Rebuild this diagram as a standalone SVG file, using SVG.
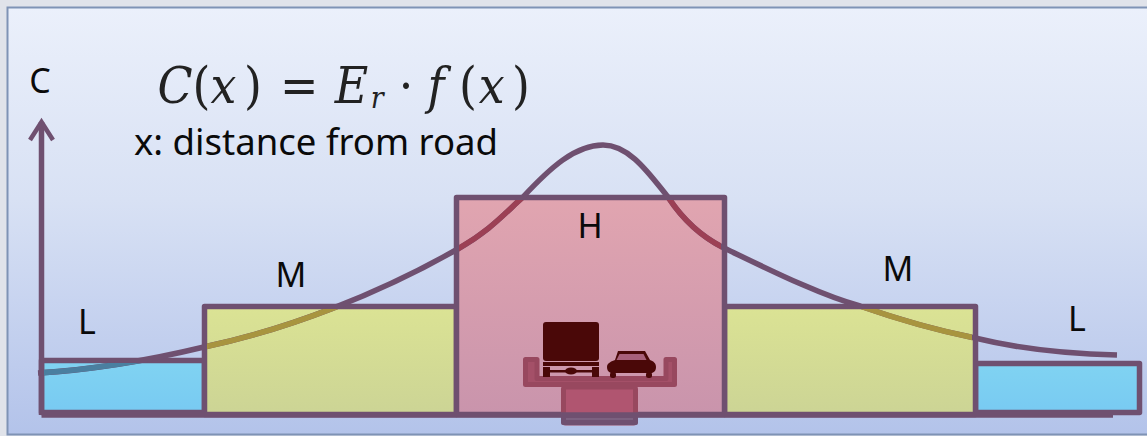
<svg xmlns="http://www.w3.org/2000/svg" xmlns:xlink="http://www.w3.org/1999/xlink" width="1147" height="436" viewBox="0 0 1147 436">
<defs>
<linearGradient id="bg" x1="0" y1="0" x2="0" y2="1"><stop offset="0" stop-color="#ebf0fb"/><stop offset="0.45" stop-color="#d8e1f4"/><stop offset="1" stop-color="#b3c3ea"/></linearGradient>
<linearGradient id="yel" x1="0" y1="0" x2="0" y2="1"><stop offset="0" stop-color="#dbe394"/><stop offset="1" stop-color="#ccd495"/></linearGradient>
<linearGradient id="pink" gradientUnits="userSpaceOnUse" x1="0" y1="197" x2="0" y2="415"><stop offset="0" stop-color="#e1a5b0"/><stop offset="1" stop-color="#c994ac"/></linearGradient>
<linearGradient id="blue" x1="0" y1="0" x2="0" y2="1"><stop offset="0" stop-color="#80d3f2"/><stop offset="1" stop-color="#78caf2"/></linearGradient>
<clipPath id="cL1"><rect x="44" y="363" width="158" height="47"/></clipPath>
<clipPath id="cM1"><rect x="207" y="309" width="246" height="103"/></clipPath>
<clipPath id="cH"><rect x="459" y="200" width="262" height="212"/></clipPath>
<clipPath id="cM2"><rect x="727" y="309" width="245" height="103"/></clipPath>
<path id="curve" d="M38 373C90 370 150 360 204 347C290 329 380 293 456 250C490 231 505 213 523 197C550 168 575 145 603 145C630 145 650 175 668 197C683 220 700 236 724 248C770 270 820 295 860 306C900 320 940 331 975 338C1020 349 1070 354 1117 355"/>
</defs>
<style>
.b{stroke:#6f5070;stroke-width:5.500;stroke-linejoin:round}
.c{fill:none;stroke-width:5.500}
.t{font-family:"Noto Sans","Open Sans",sans-serif;fill:#0a0a0a}
.m{font-family:"DejaVu Serif",serif;font-size:51px;fill:#222}
.i{font-style:italic}
.k{fill:#4a0808}
</style>
<rect width="1147" height="436" fill="#e0e3ea"/>
<rect x="7.500" y="7.500" width="1142" height="427" fill="url(#bg)" stroke="#7f93b5" stroke-width="2"/>
<g id="box-L-left"><rect class="b" x="41.500" y="360.500" width="163" height="52" fill="url(#blue)"/></g>
<g id="box-L-right"><rect class="b" x="975.500" y="363.500" width="164" height="49" fill="url(#blue)"/></g>
<g id="box-M-left"><rect class="b" x="204.500" y="306.500" width="252" height="108" fill="url(#yel)"/></g>
<g id="box-M-right"><rect class="b" x="724.500" y="306.500" width="251" height="108" fill="url(#yel)"/></g>
<g id="box-H"><rect class="b" x="456.500" y="197.500" width="268" height="217" fill="url(#pink)"/></g>
<g id="road">
<rect x="563.500" y="387" width="72" height="36" rx="2" fill="#b05570" stroke="#98485f" stroke-width="5"/>
<rect x="561" y="413" width="77" height="12" rx="2" fill="#6f5070"/>
<line x1="566" y1="419" x2="633" y2="419" stroke="#8a7390" stroke-width="1"/>
<path d="M525.500 359.500H537V378.500H666V359.500H674.500V384.500H525.500Z" fill="#a45068" stroke="#98485f" stroke-width="5" stroke-linejoin="round"/>
<g id="truck" class="k">
<rect x="543" y="322" width="56" height="39" rx="3"/>
<rect x="543" y="362" width="56" height="4"/>
<rect x="543" y="367" width="7" height="10"/>
<rect x="592" y="367" width="7" height="10"/>
<rect x="550" y="370" width="42" height="2.500"/>
<ellipse cx="571" cy="371" rx="6" ry="3.500"/>
</g>
<g id="car" class="k">
<path d="M607 367C607 363 612 361 615 360L618 351H645L650 360C653 361 656 363 656 367C656 370 655 372 652 373H611C608 372 607 370 607 367Z"/>
<rect x="610" y="372" width="6" height="6" rx="2.500"/>
<rect x="646" y="372" width="6" height="6" rx="2.500"/>
<path d="M619.500 354H643.500L646.500 360H616.500Z" fill="#a8607a"/>
</g>
</g>
<g id="connectors">
<line x1="41.500" y1="415" x2="1113" y2="415" stroke="#6f5070" stroke-width="5.500"/>
<line x1="41.500" y1="415" x2="41.500" y2="122" stroke="#6f5070" stroke-width="5.500"/>
<path d="M30 140L41.500 122L53 140" fill="none" stroke="#6f5070" stroke-width="4.500"/>
<use xlink:href="#curve" class="c" stroke="#6f5070"/>
<use xlink:href="#curve" class="c" stroke="#4a7fa0" clip-path="url(#cL1)"/>
<use xlink:href="#curve" class="c" stroke="#a8943f" clip-path="url(#cM1)"/>
<use xlink:href="#curve" class="c" stroke="#9c4055" clip-path="url(#cH)"/>
<use xlink:href="#curve" class="c" stroke="#a8943f" clip-path="url(#cM2)"/>
</g>
<g id="labels">
<text class="t" x="40" y="93" font-size="34" text-anchor="middle">C</text>
<text class="t" x="87" y="334" font-size="34" text-anchor="middle">L</text>
<text class="t" x="291" y="287" font-size="34" text-anchor="middle">M</text>
<text class="t" x="590" y="238" font-size="34" text-anchor="middle">H</text>
<text class="t" x="898" y="281" font-size="34" text-anchor="middle">M</text>
<text class="t" x="1077" y="331" font-size="34" text-anchor="middle">L</text>
<text class="t" x="134" y="155" font-size="37" textLength="364" lengthAdjust="spacingAndGlyphs">x: distance from road</text>
<text class="m" transform="scale(.9 1)" x="175" y="103"><tspan class="i">C</tspan><tspan x="214">(</tspan><tspan class="i" x="234">x</tspan><tspan x="271">)</tspan><tspan x="311">=</tspan><tspan class="i" x="372">E</tspan><tspan class="i" x="412" y="108" font-size="30">r</tspan><tspan x="443" y="103">·</tspan><tspan class="i" x="475">f</tspan><tspan x="510">(</tspan><tspan class="i" x="532">x</tspan><tspan x="569">)</tspan></text>
</g>
</svg>
